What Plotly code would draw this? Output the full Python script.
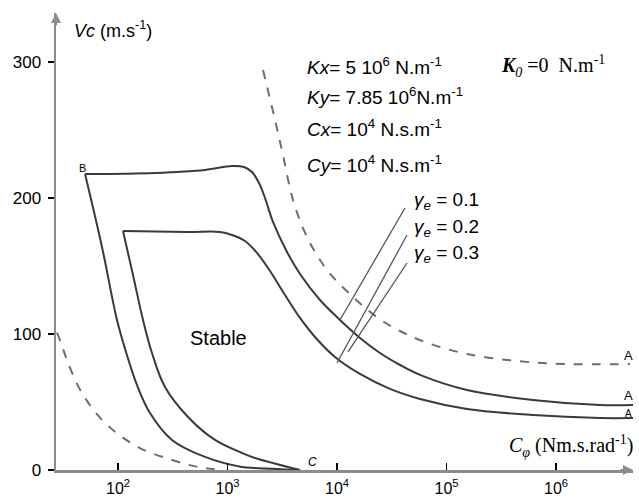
import plotly.graph_objects as go

# ---------------- data ----------------
# outer stability boundary (solid) : left branch C -> B
outer_left_x = [4595, 1783, 1357, 623, 311, 196, 149, 118.3, 97.9, 71.4, 50]
outer_left_y = [0, 1.5, 2.2, 9.6, 22.1, 41.9, 62.5, 86.8, 110.3, 164.0, 217.6]
# outer : top + right branch B -> A
outer_right_x = [50, 217.7, 623, 1099, 1415, 1673, 1940, 2200, 2603, 3495, 4595, 6993,
                 10650, 16220, 24700, 37610, 57280, 153900, 616600, 2.522e6, 5.05e6]
outer_right_y = [217.6, 218.4, 220.6, 223.5, 222.8, 219.1, 211.0, 200.0, 182.4, 160.3,
                 144.1, 125.0, 110.3, 97.1, 86.0, 77.2, 69.9, 58.8, 51.5, 47.8, 47.8]
# inner stability boundary (solid)
inner_left_x = [4595, 1783, 1357, 769, 436, 268.7, 204.4, 169.2, 137.1, 111.1]
inner_left_y = [0, 8.8, 12.5, 22.1, 39.0, 61.0, 86.0, 110.3, 143.4, 175.7]
inner_right_x = [111.1, 436, 854, 1099, 1445, 1860, 2445, 3351, 4595, 6297, 9588, 16220,
                 30480, 57280, 153900, 616600, 2.522e6, 5.05e6]
inner_right_y = [175.7, 175.0, 175.0, 172.8, 168.4, 159.6, 146.3, 128.7, 111.8, 97.8,
                 83.1, 70.6, 59.6, 52.2, 44.9, 40.4, 38.2, 38.2]
# dashed curve, upper right
dash_right_x = [2110, 2716, 3212, 3966, 5321, 8102, 14000, 23680, 37610, 63630, 153900,
                440400, 1.261e6, 4.741e6]
dash_right_y = [294.1, 257.4, 231.6, 198.5, 171.3, 147.1, 127.2, 111.8, 102.2, 94.1, 85.3,
                80.1, 77.9, 77.9]
# dashed curve, lower left
dash_left_x = [27.7, 30.2, 34.95, 46.9, 76.1, 152.3, 311, 537.9, 890.6]
dash_left_y = [101.0, 93.4, 78.7, 56.6, 34.6, 16.9, 7.4, 2.2, 0]
# leader lines for the gamma_e labels (lower end, upper end)
lead1_x, lead1_y = [10650, 41780], [110.3, 192.6]
lead2_x, lead2_y = [10000, 43590], [78.7, 172.8]
lead3_x, lead3_y = [12610, 43590], [86.8, 152.2]

x_tickvals = [1e2, 1e3, 1e4, 1e5, 1e6]
x_ticktext = ["10<sup>2</sup>", "10<sup>3</sup>", "10<sup>4</sup>", "10<sup>5</sup>", "10<sup>6</sup>"]
y_tickvals = [0, 100, 200, 300]
y_ticktext = ["0", "100", "200", "300"]

# ---------------- layout geometry ----------------
W, H = 639, 502
L, R, T, B = 56, 6, 13, 32
X_RANGE = [1.4338, 6.7032]
Y_RANGE = [0, 336]


def px(xp):
    return (xp - L) / (W - L - R)


def py(yp):
    return (H - B - yp) / (H - T - B)


SOLID = dict(color="#3a3a3a", width=2)
DASH = dict(color="#6e6e6e", width=2, dash="dash")
LEAD = dict(color="#555555", width=1.3)

fig = go.Figure()


def add(x, y, line, shape="spline"):
    fig.add_trace(go.Scatter(x=x, y=y, mode="lines", line=dict(**line, shape=shape),
                             hoverinfo="skip", showlegend=False))


add(outer_left_x, outer_left_y, SOLID)
add(outer_right_x, outer_right_y, SOLID)
add(inner_left_x, inner_left_y, SOLID)
add(inner_right_x, inner_right_y, SOLID)
add(dash_right_x, dash_right_y, DASH)
add(dash_left_x, dash_left_y, DASH)
add(lead1_x, lead1_y, LEAD, "linear")
add(lead2_x, lead2_y, LEAD, "linear")
add(lead3_x, lead3_y, LEAD, "linear")

FONT = "Liberation Sans, Arial, sans-serif"
SERIF = "Liberation Serif, Times New Roman, serif"

ann = []


def text(t, x, y, size=14, anchor="left", family=FONT):
    ann.append(dict(text=t, x=px(x), y=py(y), xref="paper", yref="paper",
                    xanchor=anchor, yanchor="middle", showarrow=False,
                    font=dict(family=family, size=size, color="black")))


text("<i>Vc</i> (m.s<sup>-1</sup>)", 72, 30, 18)
text("<i>Kx</i>= 5 10<sup>6</sup> N.m<sup>-1</sup>", 305, 66, 19)
text("<i>Ky</i>= 7.85 10<sup>6</sup>N.m<sup>-1</sup>", 305, 96, 19)
text("<i>Cx</i>= 10<sup>4</sup> N.s.m<sup>-1</sup>", 305, 128, 19)
text("<i>Cy</i>= 10<sup>4</sup> N.s.m<sup>-1</sup>", 305, 164, 19)
text("<b><i>K</i></b><sub><i>0</i></sub> =0  N.m<sup>-1</sup>", 499, 66, 20, family=SERIF)
text("<i>γ<sub>e</sub></i> = 0.1", 412, 201, 19)
text("<i>γ<sub>e</sub></i> = 0.2", 412, 228, 19)
text("<i>γ<sub>e</sub></i> = 0.3", 412, 254, 19)
text("Stable", 218, 338, 20, "center")
text("<i>C</i><sub><i>φ</i></sub> (Nm.s.rad<sup>-1</sup>)", 635, 446, 20, "right", SERIF)
text("B", 77, 168, 11)
text("<i>C</i>", 306, 462, 12)
text("A", 628, 355, 13, "center")
text("A", 628, 395, 13, "center")
text("A", 628, 413, 10, "center")

AX = "#8c8c8c"
# axis arrows
ann.append(dict(x=X_RANGE[1], y=0, xref="x", yref="y", ax=-14, ay=0, text="",
                showarrow=True, arrowhead=2, arrowsize=1, arrowwidth=2, arrowcolor=AX))
ann.append(dict(x=X_RANGE[0], y=Y_RANGE[1], xref="x", yref="y", ax=0, ay=14, text="",
                showarrow=True, arrowhead=2, arrowsize=1, arrowwidth=2, arrowcolor=AX))

fig.update_layout(
    width=W, height=H,
    margin=dict(l=L, r=R, t=T, b=B, pad=0),
    paper_bgcolor="white", plot_bgcolor="white",
    font=dict(family=FONT, size=14, color="black"),
    annotations=ann,
    xaxis=dict(type="log", range=X_RANGE, showgrid=False, zeroline=False,
               showline=True, linecolor=AX, linewidth=2.5,
               tickvals=x_tickvals, ticktext=x_ticktext,
               ticks="inside", ticklen=7, tickwidth=1.5, tickcolor="black",
               tickfont=dict(size=16), ticklabelstandoff=2),
    yaxis=dict(range=Y_RANGE, showgrid=False, zeroline=False,
               showline=True, linecolor=AX, linewidth=2.5,
               tickvals=y_tickvals, ticktext=y_ticktext,
               ticks="outside", ticklen=6, tickwidth=1.5, tickcolor="black",
               tickfont=dict(size=17), ticklabelstandoff=3),
)

fig.write_html(
    "out.html",
    config={"displayModeBar": False, "staticPlot": True},
    post_script="document.body.style.margin='0';document.body.style.padding='0';"
                "document.body.style.overflow='hidden';",
)
